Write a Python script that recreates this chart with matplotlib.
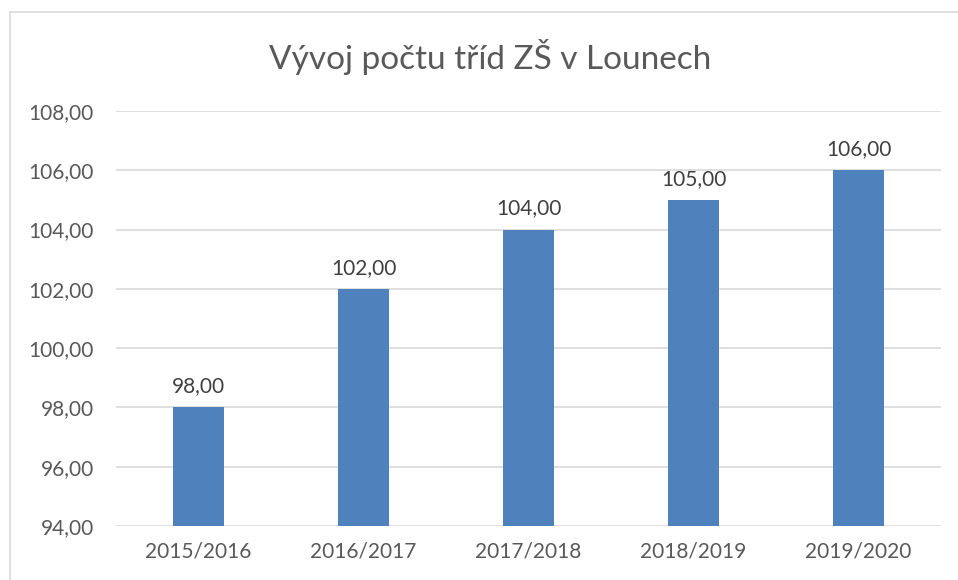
import matplotlib.pyplot as plt
from matplotlib.patches import Rectangle

years = ['2015/2016', '2016/2017', '2017/2018', '2018/2019', '2019/2020']
classes = [98, 102, 104, 105, 106]
yticks = [94, 96, 98, 100, 102, 104, 106, 108]

plt.rcParams['font.family'] = ['Lato', 'DejaVu Sans']
text_col = '#595959'

W, H = 958, 580
fig = plt.figure(figsize=(W / 100, H / 100), dpi=100)
fig.patch.set_facecolor('white')

# chart area border (runs off right/bottom edge like in the screenshot)
fig.patches.append(Rectangle((10 / W, -0.1), 1.2, 1 - 12 / H + 0.1, transform=fig.transFigure,
                             fill=False, edgecolor='#D9D9D9', linewidth=1.2))

ax = fig.add_axes([116 / W, 1 - 526 / H, (941 - 116) / W, (526 - 111) / H])
x = range(len(years))
bars = ax.bar(x, classes, width=0.31, color='#4F81BD', zorder=3)
ax.set_ylim(94, 108)
ax.set_xlim(-0.5, len(years) - 0.5)
ax.set_yticks(yticks)
ax.set_yticklabels([f'{v:.2f}'.replace('.', ',') for v in yticks])
ax.set_xticks(list(x))
ax.set_xticklabels(years)
ax.grid(axis='y', color='#D9D9D9', linewidth=1.2, zorder=0)
for s in ax.spines.values():
    s.set_visible(False)
ax.tick_params(length=0, colors=text_col, labelsize=15)
ax.tick_params(axis='y', pad=16)
ax.tick_params(axis='x', pad=11)

for xi, v in zip(x, classes):
    ax.annotate(f'{v:.2f}'.replace('.', ','), (xi, v), xytext=(0, 8), textcoords='offset points',
                ha='center', va='bottom', fontsize=15, color='#404040')

fig.text(490 / W, 1 - 57 / H, 'Vývoj počtu tříd ZŠ v Lounech', ha='center', va='center',
         fontsize=24, color=text_col)

fig.savefig('out.png', dpi=100)
